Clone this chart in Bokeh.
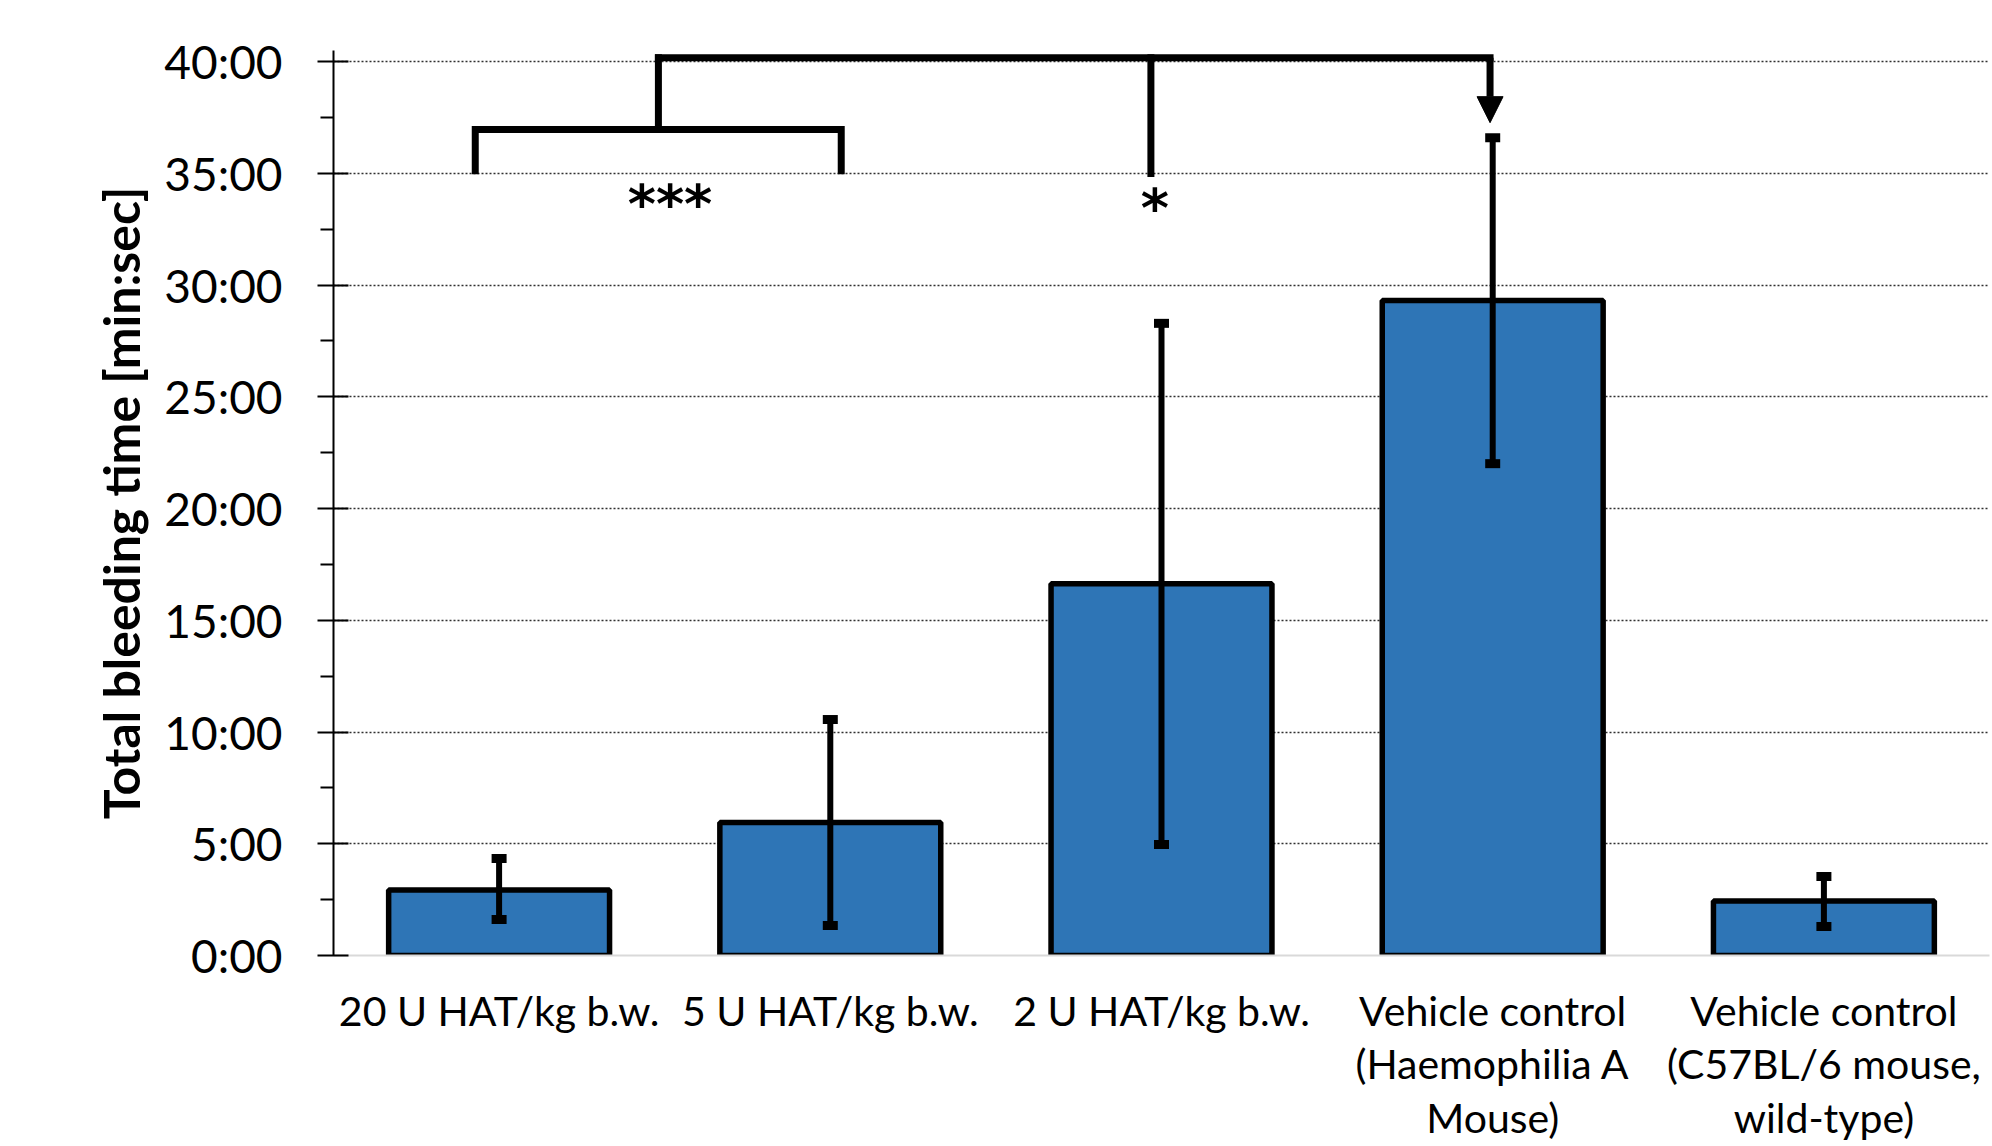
from bokeh.plotting import figure
from bokeh.models import Range1d, FixedTicker, Arrow, NormalHead
from bokeh.core.properties import value
from bokeh.embed import file_html
from bokeh.resources import INLINE

# ---- data (minutes) ----
categories = ["20 U HAT/kg b.w.", "5 U HAT/kg b.w.", "2 U HAT/kg b.w.",
              "Vehicle control\n(Haemophilia A\nMouse)",
              "Vehicle control\n(C57BL/6 mouse,\nwild-type)"]
mean_time = [2.93, 5.95, 16.64, 29.31, 2.44]
err_high = [4.34, 10.56, 28.29, 36.60, 3.53]
err_low = [1.61, 1.34, 4.97, 22.01, 1.30]
y_ticks = [0, 5, 10, 15, 20, 25, 30, 35, 40]
y_tick_labels = ["0:00", "5:00", "10:00", "15:00", "20:00", "25:00", "30:00", "35:00", "40:00"]
y_minor = [2.5, 7.5, 12.5, 17.5, 22.5, 27.5, 32.5, 37.5]

# significance annotation geometry (data units: x in category index, y in minutes)
br1_x = [0.428, 0.428, 1.533, 1.533]
br1_y = [35.12, 36.97, 36.97, 35.12]
stem1_x = [0.981, 0.981]
stem1_y = [36.97, 40.17]
top_x = [0.981, 3.492]
top_y = [40.17, 40.17]
stem2_x = [2.468, 2.468]
stem2_y = [40.17, 34.99]
arrow_x = 3.492
arrow_y0, arrow_y1 = 40.17, 37.27
stars_text = ["***", "*"]
stars_x = [1.016, 2.48]
stars_y = [33.6, 33.42]

FONT = "Lato"
centers = [i + 0.5 for i in range(len(categories))]

p = figure(width=1992, height=1146, x_range=Range1d(0, 5), y_range=Range1d(0, 40.5),
           output_backend="svg", toolbar_location=None,
           min_border_left=333, min_border_right=3, min_border_top=50, min_border_bottom=191)
p.outline_line_color = None
p.background_fill_color = "white"
p.border_fill_color = "white"

# grid
p.xgrid.visible = False
p.ygrid.ticker = FixedTicker(ticks=y_ticks[1:])
p.ygrid.grid_line_color = "#303030"
p.ygrid.grid_line_width = 1.5
p.ygrid.grid_line_dash = "2 2"

# y axis
ya = p.yaxis[0]
ya.ticker = FixedTicker(ticks=y_ticks, minor_ticks=y_minor)
ya.major_label_overrides = {t: l for t, l in zip(y_ticks, y_tick_labels)}
ya.axis_line_color = "black"
ya.axis_line_width = 2
ya.major_tick_line_color = "black"
ya.major_tick_line_width = 2
ya.major_tick_out = 16
ya.major_tick_in = 15
ya.minor_tick_line_color = "black"
ya.minor_tick_line_width = 2
ya.minor_tick_out = 13
ya.minor_tick_in = 0
ya.major_label_text_font = FONT
ya.major_label_text_font_size = "46px"
ya.major_label_text_color = "black"
ya.major_label_standoff = 35
ya.axis_label = "Total bleeding time [min:sec]"
ya.axis_label_text_font = FONT
ya.axis_label_text_font_style = "bold"
ya.axis_label_text_font_size = "50px"
ya.axis_label_text_color = "black"
ya.axis_label_standoff = 10

# x axis
xa = p.xaxis[0]
xa.ticker = FixedTicker(ticks=centers)
xa.major_label_overrides = {c: l for c, l in zip(centers, categories)}
xa.axis_line_color = "#D9D9D9"
xa.axis_line_width = 2
xa.major_tick_out = 0
xa.major_tick_in = 0
xa.minor_tick_out = 0
xa.minor_tick_in = 0
xa.major_label_text_font = FONT
xa.major_label_text_font_size = "41px"
xa.major_label_text_line_height = 1.1
xa.major_label_text_color = "black"
xa.major_label_standoff = 30

# bars
p.vbar(x=centers, top=mean_time, width=0.667, bottom=0,
       fill_color="#2E75B6", line_color="black", line_width=5.5)

# error bars
p.segment(x0=centers, y0=err_low, x1=centers, y1=err_high, line_color="black", line_width=6)
p.rect(x=centers + centers, y=err_high + err_low, width=15, height=9,
       width_units="screen", height_units="screen",
       fill_color="black", line_color=None)

# significance brackets
for xs, ys in [(br1_x, br1_y), (stem1_x, stem1_y), (top_x, top_y), (stem2_x, stem2_y)]:
    p.line(xs, ys, line_color="black", line_width=7, line_join="miter", line_cap="square")
p.add_layout(Arrow(end=NormalHead(size=26, fill_color="black", line_color="black", line_width=1),
                   x_start=arrow_x, y_start=arrow_y0, x_end=arrow_x, y_end=arrow_y1,
                   line_color="black", line_width=7))
p.text(x=stars_x, y=stars_y, text=stars_text, text_font=value("DejaVu Sans"), text_font_style="bold",
       text_font_size="54px", text_align="center", text_baseline="alphabetic", text_color="black")

open("out.html", "w").write(file_html(p, INLINE))
